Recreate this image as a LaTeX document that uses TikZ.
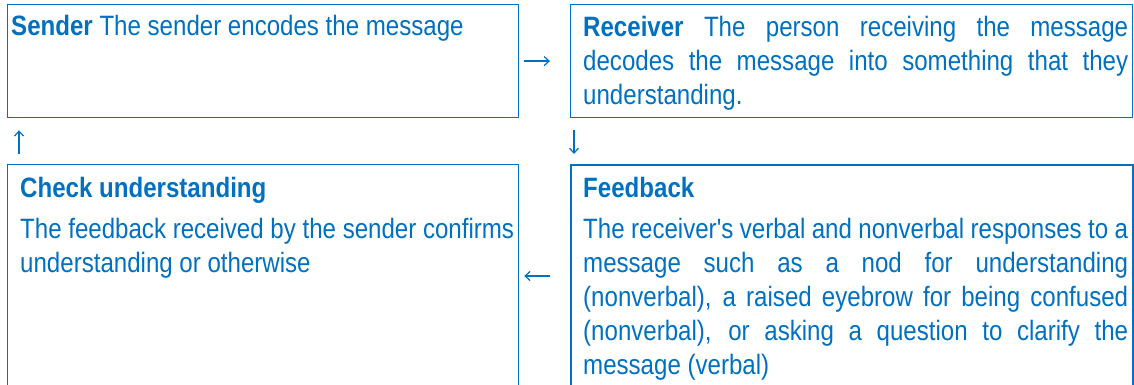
\documentclass[tikz,border=0pt]{standalone}
\usepackage{graphicx}
\usepackage{fontspec}
\setmainfont{Liberation Sans}
\newfontfamily\plainq{Liberation Sans}
\usetikzlibrary{arrows.meta}
\definecolor{blu}{HTML}{0070C0}
\hyphenpenalty=10000
\exhyphenpenalty=10000
\newcommand\narrowtext[2]{\scalebox{0.86}[1]{\parbox[t]{#1}{\fontsize{28}{33.8}\selectfont #2}}}
\begin{document}
\begin{tikzpicture}[x=1pt,y=-1pt,
  box/.style={draw=blu, line width=1.2pt, inner sep=0pt, anchor=north west},
  txt/.style={text=blu, inner sep=0pt, anchor=base west},
  arr/.style={draw=blu, line width=1.2pt, -{Straight Barb[length=5pt,width=9pt]}}]
\useasboundingbox (0,0) rectangle (1134,385);
\clip (0,0) rectangle (1134,385);
% boxes
\node[box, minimum width=511pt, minimum height=113pt] (sender) at (7,4) {};
\node[box, minimum width=562pt, minimum height=113pt] (receiver) at (570,4) {};
\node[box, minimum width=511pt, minimum height=250pt] (check) at (7,164) {};
\node[box, minimum width=562pt, minimum height=250pt, line width=1.6pt] (feedback) at (570,164) {};
% texts
\node[txt] (sendertxt) at (11,36) {\narrowtext{587pt}{\textbf{Sender} The sender encodes the message}};
\node[txt] (receivertxt) at (583,37) {\narrowtext{633.7pt}{\textbf{Receiver} The person receiving the message\linebreak decodes the message into something that they\linebreak understanding.}};
\node[txt] (checktxt) at (20,197) {\narrowtext{587pt}{\textbf{Check understanding}\par\vspace{8pt}The feedback received by the sender confirms\\ understanding or otherwise}};
\node[txt] (feedbacktxt) at (583,197) {\narrowtext{633.7pt}{\textbf{Feedback}\par\vspace{8pt}The receiver{\plainq'}s verbal and nonverbal responses to a\linebreak message such as a nod for understanding\linebreak (nonverbal), a raised eyebrow for being confused\linebreak (nonverbal), or asking a question to clarify the\linebreak message (verbal)}};
% arrows
\coordinate (fbin) at (570,276);
\draw[arr, shorten <=5pt, shorten >=20pt] (sender.east) -- (receiver.west);
\draw[arr, shorten <=12pt, shorten >=10pt] ([xshift=4pt]receiver.south west) -- ([xshift=4pt]feedback.north west);
\draw[arr, shorten <=20pt, shorten >=5pt] (feedback.west |- fbin) -- (check.east |- fbin);
\draw[arr, shorten <=10pt, shorten >=12pt] ([xshift=12pt]check.north west) -- ([xshift=12pt]sender.south west);
\end{tikzpicture}
\end{document}
